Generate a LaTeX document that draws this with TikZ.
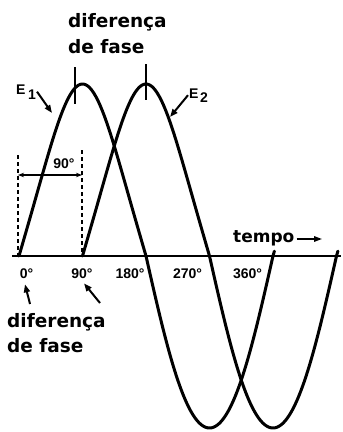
\documentclass[tikz,border=0pt]{standalone}
\usepackage{fontspec}
\setmainfont{Liberation Sans}
\newfontfamily\lblfont{DejaVu Sans}
\usetikzlibrary{arrows.meta}
\begin{document}
\begin{tikzpicture}[x=1pt,y=-1pt,
  declare function={wv(\t)=(sin(\t)>0) ? (sin(\t)-0.05*sin(3*\t))/1.05 : (sin(\t)+0.01*sin(3*\t))/0.99;},
  wave/.style={line width=3pt, line join=round, line cap=round},
  axisline/.style={line width=2.2pt},
  tickmark/.style={line width=1.3pt},
  dashline/.style={line width=1.4pt, dash pattern=on 4pt off 3pt},
  biglbl/.style={font=\lblfont\bfseries\fontsize{18.5}{26}\selectfont, inner sep=0pt, align=left},
  temlbl/.style={font=\lblfont\bfseries\fontsize{17}{20}\selectfont, inner sep=0pt},
  deg/.style={font=\bfseries\fontsize{14}{16}\selectfont, inner sep=0pt},
  elabel/.style={font=\bfseries\fontsize{14}{15}\selectfont, inner sep=0pt},
  pointer/.style={line width=2pt, -{Triangle[length=8pt,width=6pt]}},
]
\fill[white] (0,0) rectangle (341,432);
% axis
\coordinate (axL) at (12,256);
\coordinate (axR) at (341,256);
\draw[axisline] (axL) -- (axR);
% waves
\draw[wave] plot[domain=0:362, samples=181, smooth] ({19+0.705556*\x},{256-172*wv(\x)});
\draw[wave] plot[domain=90:452, samples=181, smooth] ({19+0.705556*\x},{256-172*wv(\x-90)});
% peak marks
\draw[tickmark] (75,67) -- (75,104);
\draw[tickmark] (146,64) -- (146,100);
% top label
\node[biglbl, anchor=north west] (toplbl) at (68,13) {diferença\\de fase};
% E labels
\node[elabel, anchor=base west] (E1) at (16,94) {E\hspace{2.5pt}\raisebox{-5pt}{1}};
\node[elabel, anchor=base west] (E2) at (189,98) {E\hspace{1.5pt}\raisebox{-4pt}{2}};
\coordinate (e1tip) at (52,113);
\coordinate (e2tip) at (170,117);
\draw[pointer] ([xshift=1pt]E1.east) -- (e1tip);
\draw[pointer] ([xshift=-1pt]E2.west) -- (e2tip);
% 90 degree bracket
\coordinate (bL) at (18,155);
\coordinate (bR) at (82,150);
\draw[dashline] (bL) -- (bL |- axL);
\draw[dashline] (bR) -- (bR |- axL);
\coordinate (hL) at (18,175);
\coordinate (hR) at (82,175);
\draw[line width=1.4pt, {Stealth[length=6pt,width=4.5pt]}-{Stealth[length=6pt,width=4.5pt]}] (hL) -- (hR);
\node[deg, anchor=base] (d90b) at (64,168) {90°};
% degree labels
\node[deg, anchor=base] (d0) at (26.5,278) {0°};
\node[deg, anchor=base] (d90) at (82,278) {90°};
\node[deg, anchor=base] (d180) at (130,278) {180°};
\node[deg, anchor=base] (d270) at (187.5,278) {270°};
\node[deg, anchor=base] (d360) at (247.5,278) {360°};
% tempo
\node[temlbl, anchor=base west] (tempo) at (233,242) {tempo};
\coordinate (tarrow) at (322,239);
\draw[line width=1.5pt, -{Triangle[length=8pt,width=5.5pt]}] ([xshift=2pt]tempo.east |- tarrow) -- (tarrow);
% bottom label
\node[biglbl, anchor=north west, font=\lblfont\bfseries\fontsize{18.5}{25}\selectfont] (botlbl) at (7,313) {diferença\\de fase};
\coordinate (a0) at (30,304);
\coordinate (a90) at (100,303);
\draw[pointer] (a0) -- ([shift={(-1.5,6)}]d0.south);
\draw[pointer] (a90) -- ([shift={(2,5)}]d90.south);
\end{tikzpicture}
\end{document}
